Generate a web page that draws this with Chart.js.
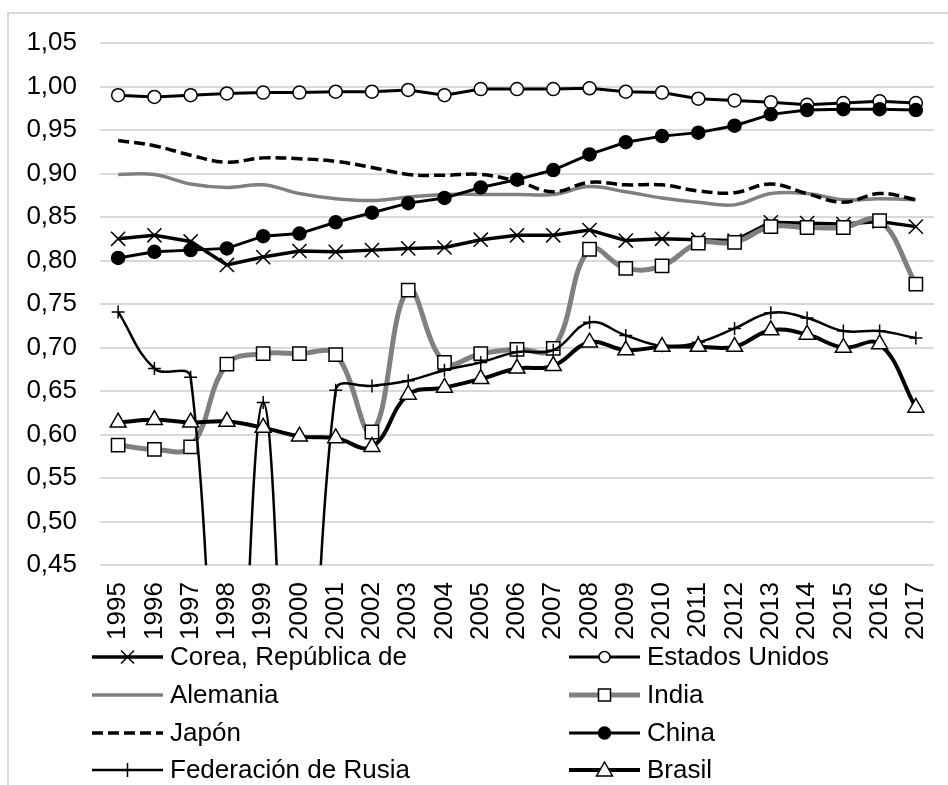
<!DOCTYPE html>
<html>
<head>
<meta charset="utf-8">
<script src="https://cdn.jsdelivr.net/npm/chart.js@4"></script>
<style>
  html, body { margin: 0; padding: 0; background: #fff; overflow: hidden; }
  #wrap { position: relative; width: 948px; height: 785px; }
</style>
</head>
<body>
<div id="wrap"><canvas id="lineChart" width="948" height="785"></canvas></div>
<script>
const years = ['1995','1996','1997','1998','1999','2000','2001','2002','2003','2004','2005','2006',
  '2007','2008','2009','2010','2011','2012','2013','2014','2015','2016','2017'];
const yTicks = [0.45, 0.50, 0.55, 0.60, 0.65, 0.70, 0.75, 0.80, 0.85, 0.90, 0.95, 1.00, 1.05];

const corea = [0.825,0.829,0.822,0.795,0.804,0.811,0.810,0.812,0.814,0.815,0.824,0.829,
  0.829,0.835,0.823,0.825,0.824,0.823,0.844,0.843,0.842,0.845,0.839];
const estadosUnidos = [0.990,0.988,0.990,0.992,0.993,0.993,0.994,0.994,0.996,0.990,0.997,0.997,
  0.997,0.998,0.994,0.993,0.986,0.984,0.982,0.979,0.981,0.983,0.981];
const alemania = [0.899,0.899,0.888,0.884,0.887,0.877,0.871,0.869,0.873,0.876,0.876,0.876,
  0.876,0.885,0.879,0.872,0.867,0.864,0.877,0.877,0.870,0.871,0.870];
const india = [0.588,0.583,0.586,0.681,0.693,0.693,0.692,0.603,0.766,0.683,0.693,0.698,
  0.699,0.813,0.791,0.794,0.820,0.821,0.839,0.838,0.838,0.846,0.773];
const japon = [0.938,0.932,0.921,0.913,0.918,0.917,0.914,0.907,0.899,0.898,0.899,0.891,
  0.879,0.890,0.887,0.887,0.880,0.878,0.888,0.877,0.867,0.877,0.870];
const china = [0.803,0.810,0.812,0.814,0.828,0.831,0.844,0.855,0.866,0.872,0.884,0.893,
  0.904,0.922,0.936,0.943,0.947,0.955,0.968,0.973,0.974,0.974,0.973];
const rusia = [0.741,0.676,0.666,0,0.637,0,0.651,0.656,0.662,0.674,0.683,0.695,
  0.697,0.729,0.714,0.702,0.706,0.722,0.740,0.734,0.719,0.719,0.711];
const brasil = [0.614,0.617,0.614,0.615,0.608,0.598,0.596,0.586,0.646,0.654,0.664,0.676,
  0.679,0.706,0.697,0.701,0.701,0.701,0.720,0.715,0.700,0.704,0.631];

const GRAY = '#808080';
const FONT = '"Liberation Sans", Arial, sans-serif';

// legend sample info: marker style + half size
const series = [
  { label: 'Corea, República de', data: corea, color: '#000', width: 3.5, smooth: false,
    point: 'crossRot', radius: 10, fill: '#000', mark: 6.5 },
  { label: 'Estados Unidos', data: estadosUnidos, color: '#000', width: 3, smooth: false,
    point: 'circle', radius: 6.5, fill: '#fff', mark: 5.5 },
  { label: 'Alemania', data: alemania, color: GRAY, width: 3.5, smooth: true,
    point: false, radius: 0, mark: 0 },
  { label: 'India', data: india, color: GRAY, width: 5, smooth: true,
    point: 'rect', radius: 9.4, fill: '#fff', mark: 6 },
  { label: 'Japón', data: japon, color: '#000', width: 3.5, smooth: true, dash: [11, 5],
    point: false, radius: 0, mark: 0 },
  { label: 'China', data: china, color: '#000', width: 3, smooth: false,
    point: 'circle', radius: 6.5, fill: '#000', mark: 6 },
  { label: 'Federación de Rusia', data: rusia, color: '#000', width: 2.5, smooth: true,
    point: 'cross', radius: 6.5, fill: '#000', mark: 7 },
  { label: 'Brasil', data: brasil, color: '#000', width: 4, smooth: true,
    point: 'triangle', radius: 9.2, fill: '#fff', mark: 8 }
];

function drawMarker(ctx, style, x, y, s, fill) {
  ctx.save();
  ctx.setLineDash([]);
  ctx.strokeStyle = '#000';
  ctx.lineWidth = 1.5;
  ctx.fillStyle = fill;
  ctx.beginPath();
  if (style === 'circle') {
    ctx.arc(x, y, s, 0, Math.PI * 2);
    ctx.fill(); ctx.stroke();
  } else if (style === 'rect') {
    ctx.rect(x - s, y - s, 2 * s, 2 * s);
    ctx.fill(); ctx.stroke();
  } else if (style === 'triangle') {
    ctx.moveTo(x, y - s);
    ctx.lineTo(x + s, y + s * 0.75);
    ctx.lineTo(x - s, y + s * 0.75);
    ctx.closePath();
    ctx.fill(); ctx.stroke();
  } else if (style === 'crossRot') {
    ctx.moveTo(x - s, y - s); ctx.lineTo(x + s, y + s);
    ctx.moveTo(x - s, y + s); ctx.lineTo(x + s, y - s);
    ctx.stroke();
  } else if (style === 'cross') {
    ctx.moveTo(x - s, y); ctx.lineTo(x + s, y);
    ctx.moveTo(x, y - s); ctx.lineTo(x, y + s);
    ctx.stroke();
  }
  ctx.restore();
}

const frameAndLegend = {
  id: 'frameAndLegend',
  beforeDraw(chart) {
    const ctx = chart.ctx;
    ctx.save();
    ctx.strokeStyle = '#d9d9d9';
    ctx.lineWidth = 2;
    ctx.strokeRect(8, 13, 1000, 1000);
    ctx.restore();
  },
  afterDraw(chart) {
    const ctx = chart.ctx;
    const cols = [92, 569];
    const rows = [657, 695, 733, 770];
    const lineLen = 71;
    series.forEach((s, i) => {
      const x0 = cols[i % 2];
      const y = rows[Math.floor(i / 2)];
      ctx.save();
      ctx.strokeStyle = s.color;
      ctx.lineWidth = s.width;
      ctx.setLineDash(s.dash || []);
      ctx.beginPath();
      ctx.moveTo(x0, y);
      ctx.lineTo(x0 + lineLen, y);
      ctx.stroke();
      ctx.restore();
      if (s.point) drawMarker(ctx, s.point, x0 + lineLen / 2, y, s.mark, s.fill);
      ctx.save();
      ctx.fillStyle = '#000';
      ctx.font = '26px ' + FONT;
      ctx.textBaseline = 'middle';
      ctx.fillText(s.label, x0 + lineLen + 7, y + 1);
      ctx.restore();
    });
  }
};

const ctx = document.getElementById('lineChart').getContext('2d');
new Chart(ctx, {
  type: 'line',
  data: {
    labels: years,
    datasets: series.map((s, i) => ({
      label: s.label,
      data: s.data,
      borderColor: s.color,
      borderWidth: s.width,
      borderDash: s.dash || [],
      tension: s.smooth ? 0.4 : 0,
      pointStyle: s.point,
      pointRadius: s.radius,
      pointHoverRadius: s.radius,
      pointBackgroundColor: s.fill || '#fff',
      pointBorderColor: '#000',
      pointBorderWidth: 1.5,
      order: series.length - i
    }))
  },
  options: {
    responsive: false,
    maintainAspectRatio: false,
    animation: false,
    events: [],
    layout: {
      padding: { top: 43, left: 25, right: 14, bottom: 128 }
    },
    scales: {
      x: {
        offset: true,
        grid: { display: false, drawTicks: false },
        border: { display: false },
        afterFit: axis => { axis.paddingLeft = 0; axis.paddingRight = 0; },
        ticks: {
          autoSkip: false,
          minRotation: 90,
          maxRotation: 90,
          padding: 17,
          color: '#000',
          font: { family: FONT, size: 26 }
        }
      },
      y: {
        min: yTicks[0],
        max: yTicks[yTicks.length - 1],
        afterBuildTicks: axis => { axis.ticks = yTicks.map(v => ({ value: v })); },
        afterFit: axis => { axis.width = 75; },
        grid: { color: '#d9d9d9', lineWidth: 2, drawTicks: false },
        border: { display: false },
        ticks: {
          padding: 23,
          color: '#000',
          font: { family: FONT, size: 26 },
          callback: v => Number(v).toFixed(2).replace('.', ',')
        }
      }
    },
    plugins: {
      legend: { display: false },
      tooltip: { enabled: false }
    }
  },
  plugins: [frameAndLegend]
});
</script>
</body>
</html>
